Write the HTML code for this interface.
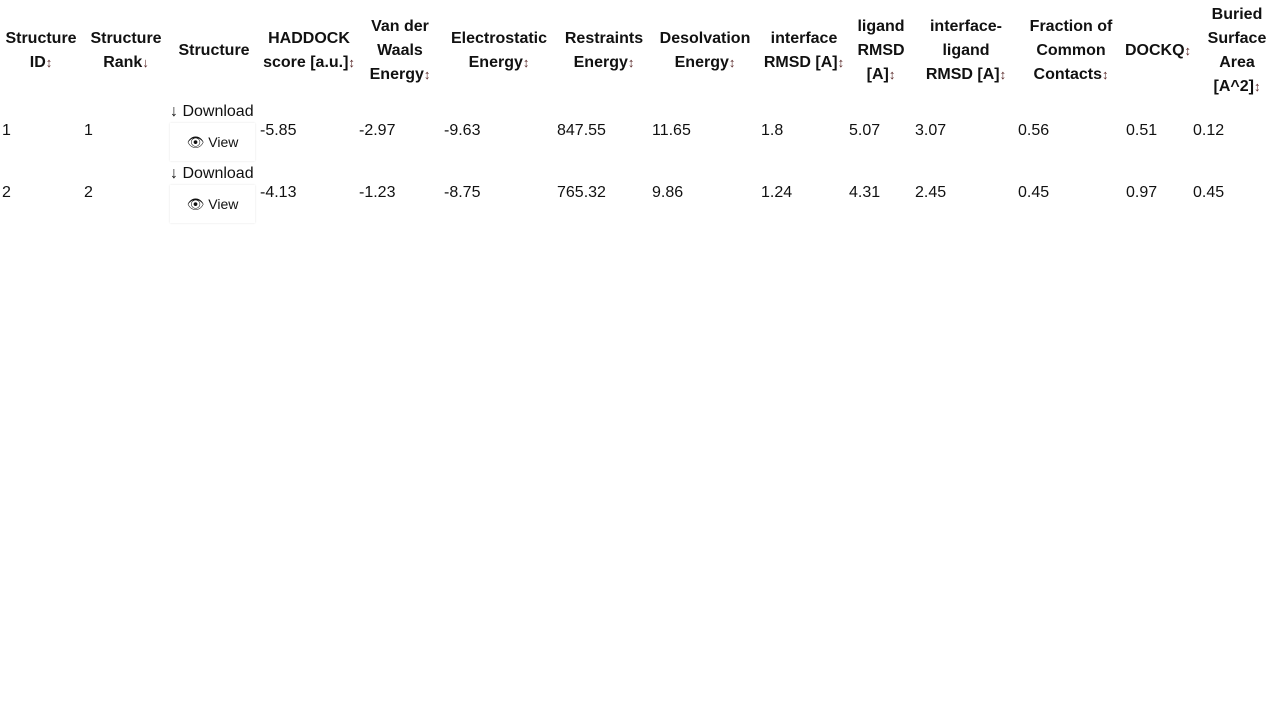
<!DOCTYPE html>
<html><head><meta charset="utf-8"><style>
body{margin:0;width:1280px;height:720px;background:#fff;font-family:"Liberation Sans","DejaVu Sans",sans-serif;color:#111;position:relative;overflow:hidden}
.h{position:absolute;font-weight:bold;font-size:16px;line-height:24px;text-align:center;transform:translate(-50%,-50%);white-space:nowrap}
.a{font-size:13px;font-weight:normal;color:#5a2a2a}
.c{position:absolute;font-size:16px;line-height:24px;transform:translateY(-50%);white-space:nowrap}
.view{position:absolute;left:170px;width:85px;height:38px;box-shadow:0 0 2px rgba(0,0,0,.12);font-size:14px;display:flex;align-items:center;justify-content:center}
</style></head><body>
<div class="h" style="left:41px;top:51px">Structure<br>ID<span class="a">↕</span></div>
<div class="h" style="left:126px;top:51px">Structure<br>Rank<span class="a">↓</span></div>
<div class="h" style="left:214px;top:51px">Structure</div>
<div class="h" style="left:309px;top:51px">HADDOCK<br>score [a.u.]<span class="a">↕</span></div>
<div class="h" style="left:400px;top:51px">Van der<br>Waals<br>Energy<span class="a">↕</span></div>
<div class="h" style="left:499px;top:51px">Electrostatic<br>Energy<span class="a">↕</span></div>
<div class="h" style="left:604px;top:51px">Restraints<br>Energy<span class="a">↕</span></div>
<div class="h" style="left:705px;top:51px">Desolvation<br>Energy<span class="a">↕</span></div>
<div class="h" style="left:804px;top:51px">interface<br>RMSD [A]<span class="a">↕</span></div>
<div class="h" style="left:881px;top:51px">ligand<br>RMSD<br>[A]<span class="a">↕</span></div>
<div class="h" style="left:966px;top:51px">interface-<br>ligand<br>RMSD [A]<span class="a">↕</span></div>
<div class="h" style="left:1071px;top:51px">Fraction of<br>Common<br>Contacts<span class="a">↕</span></div>
<div class="h" style="left:1158px;top:51px">DOCKQ<span class="a">↕</span></div>
<div class="h" style="left:1237px;top:51px">Buried<br>Surface<br>Area<br>[A^2]<span class="a">↕</span></div>

<div id="rows"></div>
<script>
const xs=[2,84,260,359,444,557,652,761,849,915,1018,1126,1193];
const names=['structure-id','structure-rank','haddock-score','vdw-energy','electrostatic-energy','restraints-energy','desolvation-energy','interface-rmsd','ligand-rmsd','interface-ligand-rmsd','fcc','dockq','buried-surface-area'];
const row1=['1','1','-5.85','-2.97','-9.63','847.55','11.65','1.8','5.07','3.07','0.56','0.51','0.12'];
const row2=['2','2','-4.13','-1.23','-8.75','765.32','9.86','1.24','4.31','2.45','0.45','0.97','0.45'];
const rows=[row1,row2];
const root=document.getElementById('rows');
rows.forEach((r,i)=>{
  const y=131+i*62;
  r.forEach((v,j)=>{
    const d=document.createElement('div');
    d.className='c';
    
    
    d.style.left=xs[j]+'px';d.style.top=y+'px';d.textContent=v;root.appendChild(d);
  });
  const dl=document.createElement('div');
  dl.className='c';
  
  
  dl.style.left='170px';dl.style.top=(y-19)+'px';dl.textContent='↓ Download';root.appendChild(dl);
  const vw=document.createElement('div');
  vw.className='view';
  
  
  vw.style.top=(y-8)+'px';vw.textContent='👁 View';root.appendChild(vw);
});
</script>
</body></html>
